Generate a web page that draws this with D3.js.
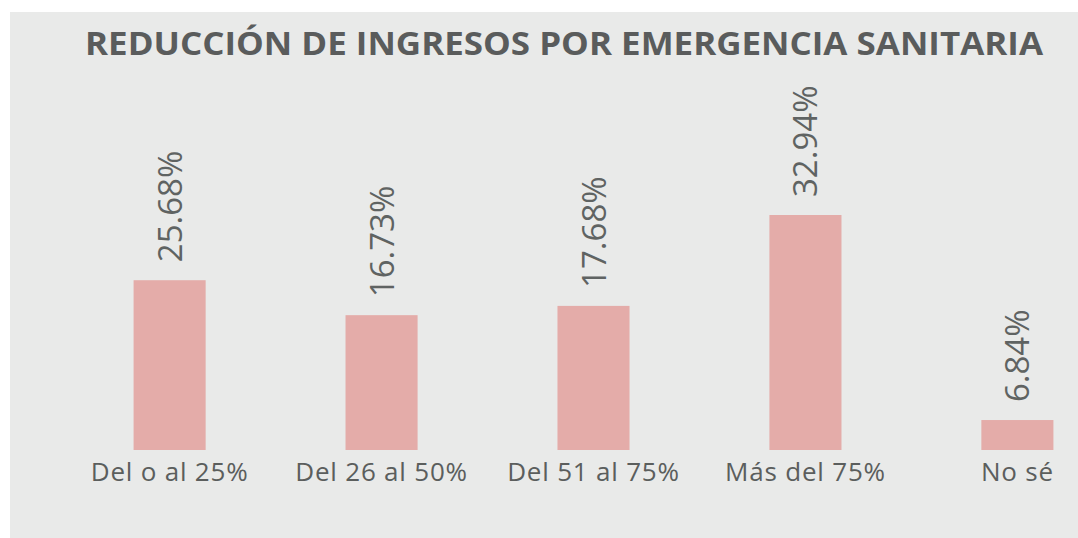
<!DOCTYPE html>
<html>
<head>
<meta charset="utf-8">
<script src="https://cdn.jsdelivr.net/npm/d3@7"></script>
<style>
  body { margin: 0; background: #ffffff; }
  svg { display: block; }
</style>
</head>
<body>
<div id="chart"></div>
<script>
// data
var categories = ["Del o al 25%", "Del 26 al 50%", "Del 51 al 75%", "Más del 75%", "No sé"];
var valueLabels = ["25.68%", "16.73%", "17.68%", "32.94%", "6.84%"];
// bar lengths as drawn (in % units), the bars in the source are not drawn to the printed values
var barHeights = [23.8, 18.9, 20.2, 32.94, 4.2];

var titleText = "REDUCCIÓN DE INGRESOS POR EMERGENCIA SANITARIA";

// setup
var svgWidth = 1078;
var svgHeight = 538;

var svg = d3.select("#chart")
  .append("svg")
  .attr("width", svgWidth)
  .attr("height", svgHeight);

// grey panel
svg.append("rect")
  .attr("x", 10)
  .attr("y", 12)
  .attr("width", svgWidth - 10)
  .attr("height", svgHeight - 12)
  .attr("fill", "#e9eae9");

// title
svg.append("text")
  .attr("x", 85)
  .attr("y", 55)
  .attr("textLength", 958)
  .attr("lengthAdjust", "spacingAndGlyphs")
  .attr("font-family", "'Open Sans', sans-serif")
  .attr("font-weight", "bold")
  .attr("font-size", 32)
  .attr("fill", "#5a5c5c")
  .text(titleText);

// scales
var xScale = d3.scaleBand()
  .domain(categories)
  .range([70, 1117])
  .paddingInner(0.66)
  .paddingOuter(0.3);

var yScale = d3.scaleLinear()
  .domain([0, 32.94])
  .range([450, 215]);

var chartGroup = svg.append("g");

// bars
chartGroup.selectAll(".bar")
  .data(categories)
  .enter()
  .append("rect")
  .attr("class", "bar")
  .attr("x", d => xScale(d))
  .attr("width", xScale.bandwidth())
  .attr("y", (d, i) => yScale(barHeights[i]))
  .attr("height", (d, i) => yScale(0) - yScale(barHeights[i]))
  .attr("fill", "#e4aca9");

// value labels, rotated
chartGroup.selectAll(".valueText")
  .data(categories)
  .enter()
  .append("text")
  .attr("class", "valueText")
  .attr("transform", (d, i) => `translate(${xScale(d) + xScale.bandwidth() / 2 + 12}, ${yScale(barHeights[i]) - 18}) rotate(-90)`)
  .attr("font-family", "'Open Sans', sans-serif")
  .attr("font-size", 33)
  .attr("fill", "#5f6362")
  .text((d, i) => valueLabels[i]);

// x axis labels
var bottomAxis = d3.axisBottom(xScale).tickSize(0).tickPadding(0);

var axisGroup = chartGroup.append("g")
  .attr("transform", "translate(0, 458)")
  .call(bottomAxis);

axisGroup.select(".domain").remove();

axisGroup.selectAll("text")
  .attr("font-family", "'Open Sans', sans-serif")
  .attr("font-size", 26)
  .attr("letter-spacing", 0.8)
  .attr("fill", "#5b5e5d")
  .attr("dy", "0.9em");
</script>
</body>
</html>
